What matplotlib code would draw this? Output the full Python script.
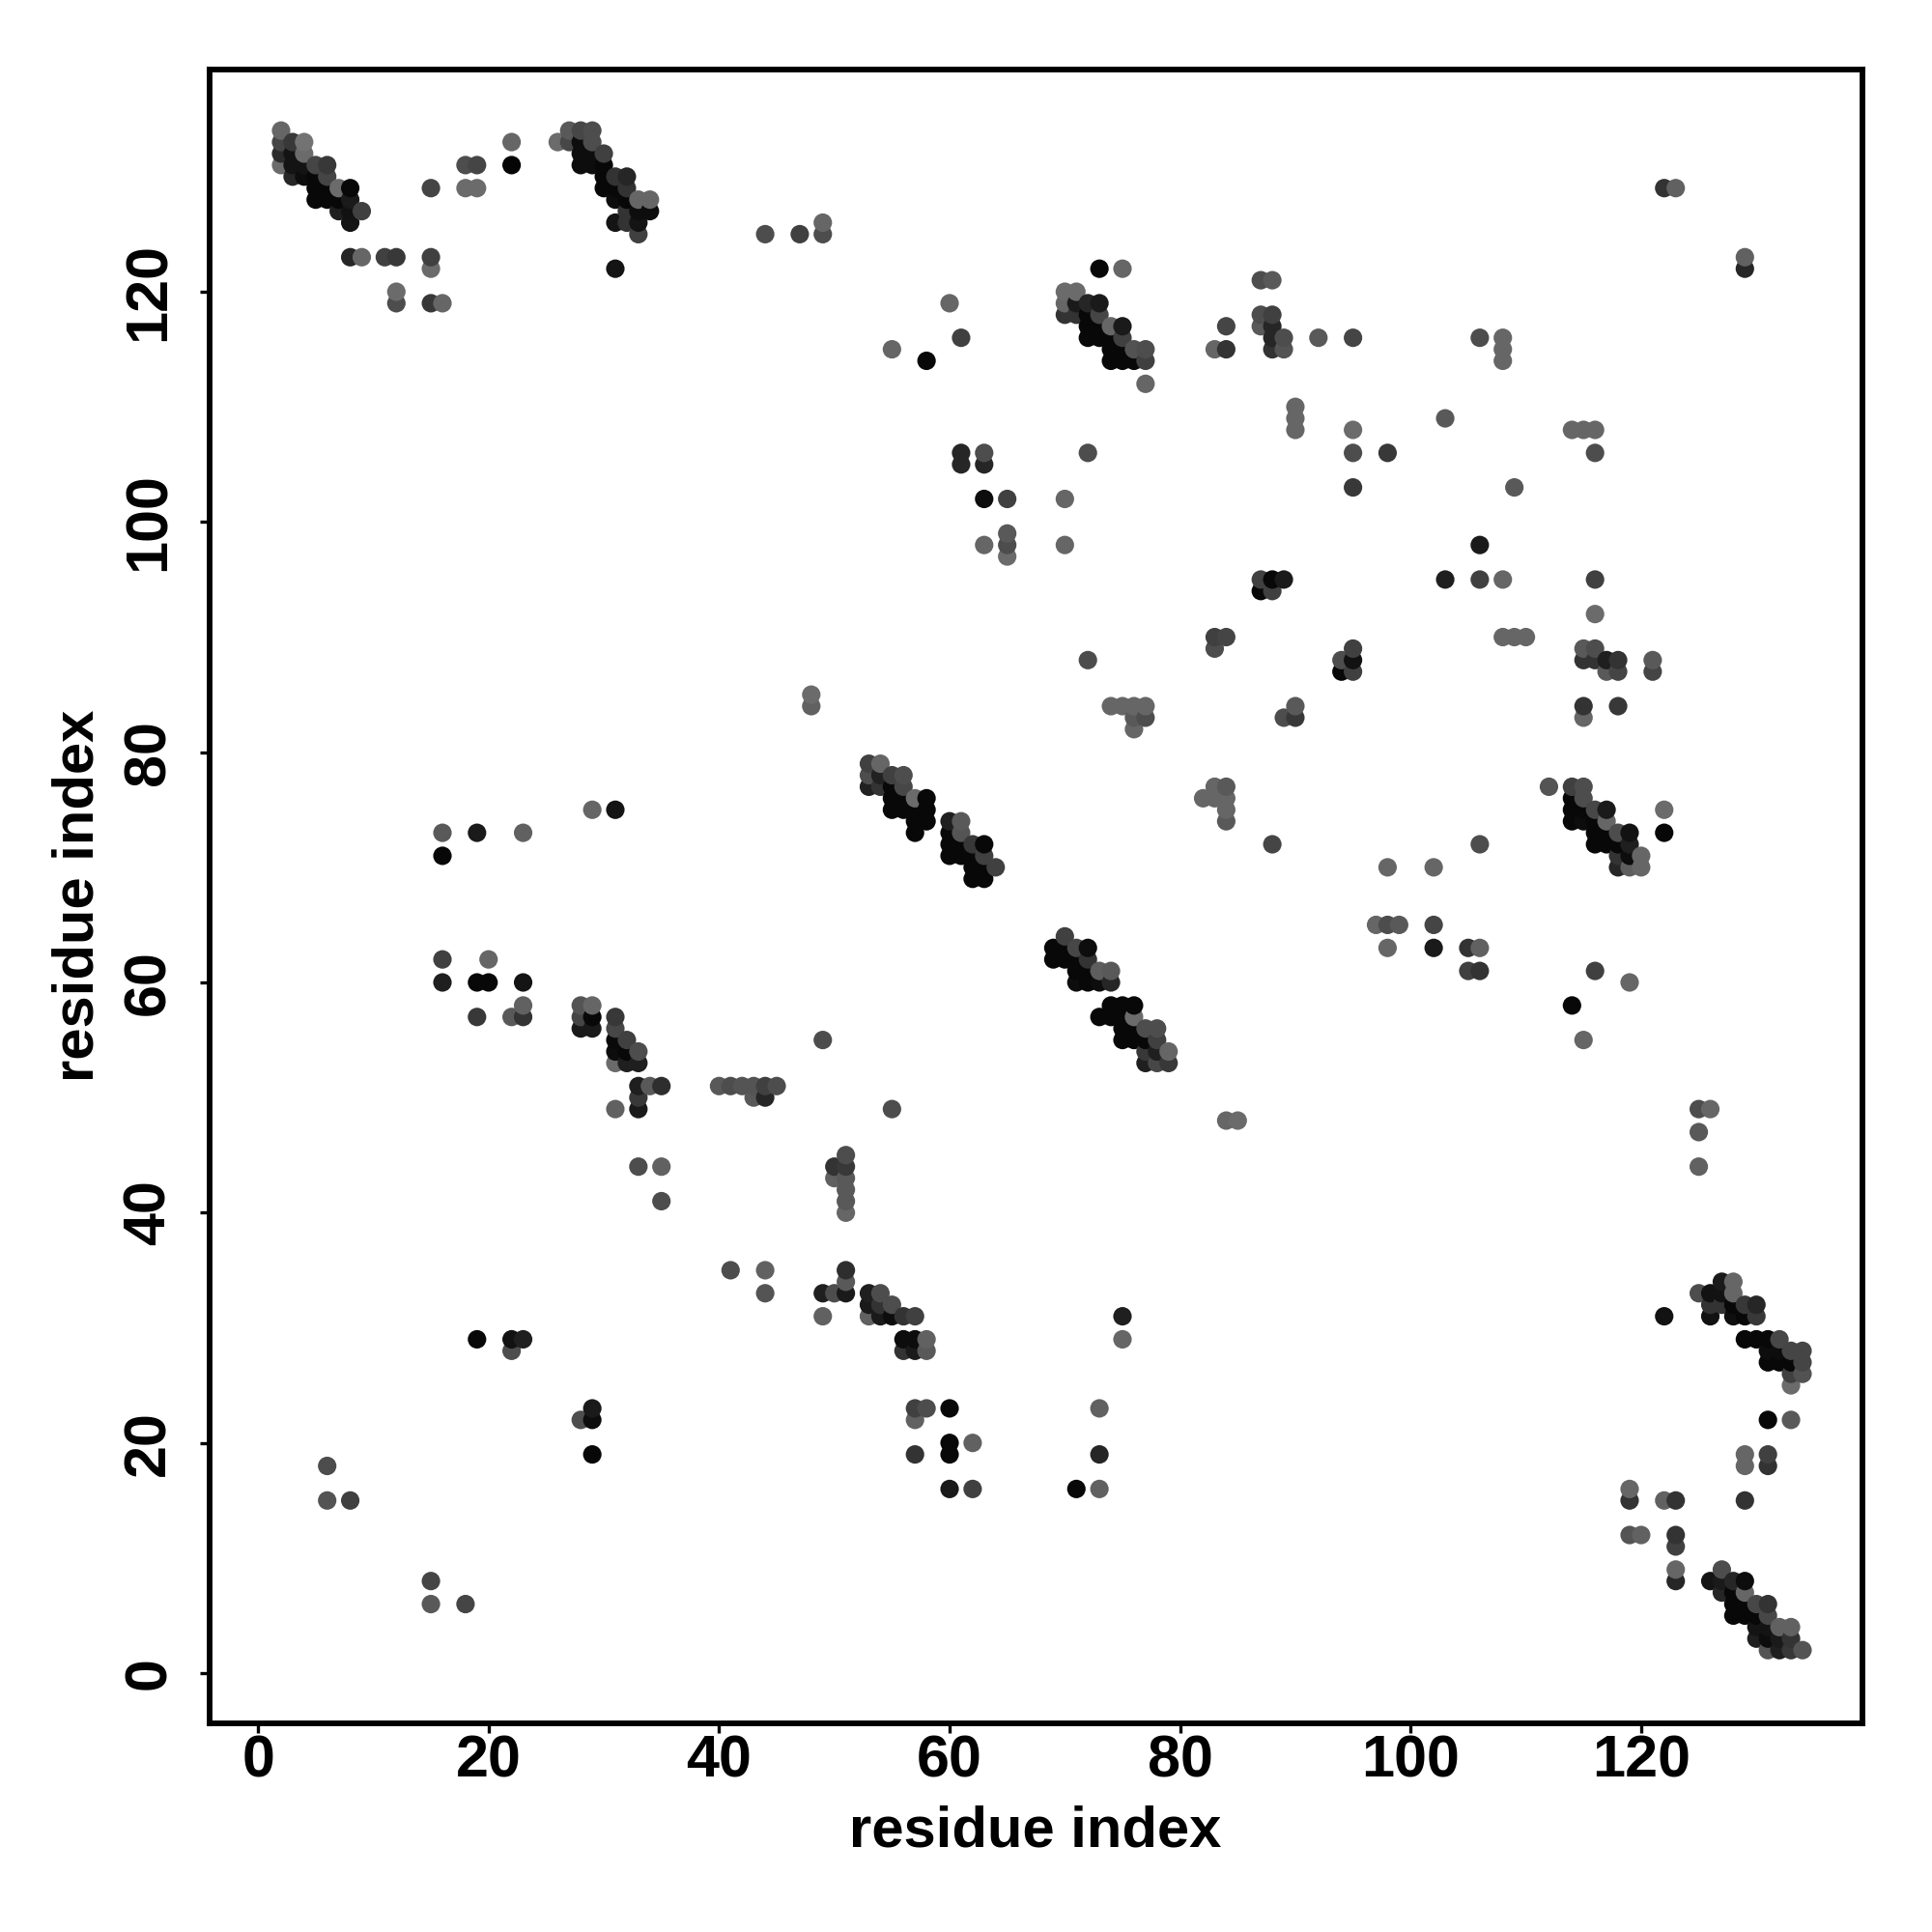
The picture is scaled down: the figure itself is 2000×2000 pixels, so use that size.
import matplotlib
matplotlib.use("Agg")
import matplotlib.pyplot as plt

# (residue i, residue j, grey level of the dot)
helix_top_left = [
(2,134,.40),(2,133,.27),(2,132,.17),(2,131,.42),(3,133,.22),(3,132,.08),(3,131,.08),(3,130,.15),
(4,133,.45),(4,132,.42),(4,131,.08),(4,130,.05),(5,131,.27),(5,130,.03),(5,129,.03),(5,128,.03),
(6,131,.22),(6,130,.27),(6,129,.03),(6,128,.03),(7,129,.42),(7,128,.03),(7,127,.12),
(8,129,.03),(8,128,.10),(8,127,.07),(8,126,.08),(9,127,.25),
(8,123,.15),(9,123,.40),(11,123,.25),(12,123,.22),(15,123,.25),(15,122,.42),(12,120,.42),(12,119,.30),
(15,119,.22),(16,119,.40),(15,129,.27),(18,131,.30),(19,131,.27),(18,129,.42),(19,129,.42),
(22,133,.40),(22,131,.02),
(26,133,.42),(27,134,.35),(27,133,.28),(28,134,.28),(29,134,.30),(28,133,.05),(28,132,.05),(28,131,.05),
(29,133,.30),(29,132,.05),(29,131,.05),(30,132,.25),(30,131,.03),(30,130,.03),(30,129,.03),
(31,130,.20),(32,130,.15),(31,129,.03),(31,128,.05),(32,129,.20),(32,128,.03),(33,128,.40),(34,128,.40),
(33,127,.05),(34,127,.05),(32,127,.20),(31,126,.08),(32,126,.20),(33,126,.08),(33,125,.25),(31,122,.08),
]
helix_centre_upper = [
(53,79,.25),(53,78,.30),(53,77,.13),(54,79,.40),(54,78,.13),(54,77,.20),
(55,78,.25),(55,77,.03),(55,76,.03),(55,75,.03),(56,78,.30),(56,77,.28),(56,76,.03),(56,75,.03),
(57,76,.42),(57,75,.03),(57,74,.03),(57,73,.03),(58,76,.03),(58,75,.03),(58,74,.03),
(60,74,.12),(60,73,.03),(60,72,.03),(60,71,.03),(61,74,.35),(61,73,.33),(61,72,.03),(61,71,.03),
(62,72,.22),(62,71,.03),(62,70,.03),(62,69,.03),(63,72,.03),(63,71,.25),(63,70,.03),(63,69,.03),(64,70,.25),
]
helix_centre_lower = [
(69,63,.03),(69,62,.03),(70,64,.25),(70,63,.03),(70,62,.03),(71,63,.28),(71,62,.03),(71,61,.03),(71,60,.05),
(72,63,.05),(72,62,.20),(72,61,.03),(72,60,.03),(73,61,.37),(73,60,.05),(74,61,.35),(74,60,.15),
(73,57,.03),(74,58,.03),(75,58,.03),(76,58,.03),(74,57,.03),(75,57,.03),(76,57,.42),
(75,56,.03),(75,55,.03),(76,56,.03),(76,55,.03),(77,56,.30),(77,55,.03),(77,54,.22),(77,53,.12),
(78,56,.30),(78,55,.25),(78,54,.12),(78,53,.28),(79,54,.40),(79,53,.22),
]
helix_upper_right = [
(70,120,.42),(71,120,.42),(70,119,.40),(71,119,.10),(72,119,.15),(73,119,.10),(70,118,.20),(71,118,.20),
(72,118,.03),(73,118,.27),(72,117,.03),(73,117,.03),(74,117,.40),(75,117,.10),(72,116,.03),(73,116,.03),
(74,116,.03),(75,116,.25),(74,115,.03),(75,115,.03),(76,115,.32),(77,115,.30),(74,114,.03),(75,114,.03),
(76,114,.03),(77,114,.25),(77,112,.40),(75,122,.40),(73,122,.03),
]
helix_right = [
(112,77,.33),(114,77,.25),(115,77,.30),(114,76,.03),(115,76,.30),(114,75,.03),(115,75,.03),(116,75,.28),(117,75,.10),
(114,74,.03),(115,74,.05),(116,74,.03),(117,74,.40),(116,73,.03),(117,73,.03),(118,73,.30),(119,73,.07),
(116,72,.03),(117,72,.03),(118,72,.03),(119,72,.12),(118,71,.20),(119,71,.05),(120,71,.40),
(118,70,.15),(119,70,.37),(120,70,.40),(122,75,.42),(122,73,.03),
]
helix_lower_right = [
(122,31,.07),(125,33,.30),(126,33,.07),(127,33,.07),(127,34,.10),(128,34,.40),(128,33,.40),
(126,32,.20),(127,32,.20),(128,32,.03),(129,32,.22),(130,32,.15),(126,31,.07),(128,31,.06),(129,31,.03),(130,31,.22),
(129,29,.03),(130,29,.03),(131,29,.03),(132,29,.28),(131,28,.05),(132,28,.05),(133,28,.27),(134,28,.27),
(131,27,.03),(132,27,.03),(133,27,.03),(134,27,.27),(133,26,.25),(134,26,.32),(133,25,.42),
]
helix_bottom_right = [
(127,9,.30),(126,8,.08),(127,8,.10),(128,8,.15),(129,8,.05),(127,7,.15),(128,7,.03),(129,7,.40),
(128,6,.03),(129,6,.03),(130,6,.28),(131,6,.20),(128,5,.03),(129,5,.03),(130,5,.03),(131,5,.28),
(130,4,.08),(131,4,.08),(132,4,.38),(133,4,.38),(130,3,.12),(131,3,.05),(132,3,.10),(133,3,.20),
(131,2,.33),(132,2,.12),(133,2,.22),(134,2,.33),
]
helix_left_mid = [
(28,58,.33),(29,58,.40),(28,57,.27),(29,57,.03),(28,56,.10),(29,56,.10),(31,57,.22),(31,56,.28),(31,55,.04),(32,55,.25),
(31,54,.05),(32,54,.03),(33,54,.30),(31,53,.42),(32,53,.12),(33,53,.12),(33,51,.12),(34,51,.35),(35,51,.18),
(33,50,.22),(33,49,.10),(31,49,.38),
]
scatter_upper = [
(122,129,.20),(123,129,.38),(129,123,.38),(129,122,.15),(44,125,.30),(47,125,.25),(49,125,.30),(49,126,.40),
(55,115,.40),(58,114,.03),(60,119,.40),(61,116,.25),(83,115,.40),(84,115,.20),(84,117,.27),
(87,118,.30),(88,118,.25),(87,117,.35),(88,117,.15),(87,121,.30),(88,121,.35),(88,116,.15),(89,116,.30),
(88,115,.20),(89,115,.33),(92,116,.35),(95,116,.27),(106,116,.30),(108,116,.40),(108,115,.40),(108,114,.40),
(90,110,.40),(90,109,.40),(90,108,.40),(95,108,.42),(95,106,.30),(98,106,.22),(95,103,.22),(103,109,.35),
(114,108,.40),(115,108,.40),(116,108,.40),(116,106,.30),(109,103,.35),
(61,106,.15),(61,105,.15),(63,106,.30),(63,105,.15),(72,106,.30),(70,102,.40),(63,102,.05),(65,102,.25),
(63,98,.40),(65,99,.35),(65,98,.30),(65,97,.42),(70,98,.40),(106,98,.10),(103,95,.12),(106,95,.25),
(108,95,.40),(116,95,.25),(116,92,.42),(87,95,.25),(88,95,.03),(89,95,.10),(87,94,.03),(88,94,.25),
]
scatter_middle = [
(83,90,.25),(84,90,.27),(83,89,.30),(108,90,.40),(109,90,.40),(110,90,.40),(72,88,.30),
(94,88,.30),(95,89,.25),(95,88,.07),(94,87,.03),(95,87,.25),(115,89,.35),(116,89,.30),(115,88,.20),(116,88,.20),
(117,88,.12),(118,88,.20),(117,87,.35),(118,87,.27),(121,88,.35),(121,87,.27),
(74,84,.40),(75,84,.40),(76,84,.40),(77,84,.40),(76,83,.35),(77,83,.30),(76,82,.40),(48,85,.42),(48,84,.38),
(89,83,.30),(90,84,.35),(90,83,.22),(115,84,.20),(115,83,.40),(118,84,.22),
(82,76,.40),(83,77,.40),(84,77,.35),(83,76,.40),(84,76,.40),(84,75,.40),(84,74,.35),(88,72,.27),
(98,70,.40),(102,70,.40),(106,72,.30),(16,73,.35),(19,73,.10),(23,73,.38),(16,71,.03),(29,75,.40),(31,75,.08),
(16,62,.25),(16,60,.12),(20,62,.40),(19,60,.03),(20,60,.03),(23,60,.08),(19,57,.22),(22,57,.35),(23,58,.38),(23,57,.20),
(97,65,.40),(98,65,.30),(99,65,.35),(98,63,.40),(102,65,.27),(102,63,.10),(105,63,.20),(106,63,.38),(105,61,.25),(106,61,.20),
(116,61,.25),(119,60,.40),(114,58,.03),(115,55,.40),(49,55,.30),
]
scatter_lower = [
(40,51,.35),(41,51,.30),(42,51,.33),(43,51,.33),(44,51,.25),(45,51,.30),(43,50,.35),(44,50,.15),(55,49,.30),
(84,48,.40),(85,48,.42),(125,49,.30),(126,49,.40),(125,47,.35),(125,44,.38),(33,44,.30),(35,44,.38),(35,41,.30),
(50,44,.20),(51,45,.30),(51,44,.22),(50,43,.38),(51,43,.35),(51,42,.35),(51,41,.35),(51,40,.40),
(41,35,.30),(44,35,.38),(44,33,.33),(51,35,.18),(51,34,.35),(49,33,.12),(50,33,.30),(51,33,.10),(49,31,.38),
(53,33,.12),(54,33,.30),(53,32,.10),(54,32,.20),(55,32,.30),(53,31,.38),(54,31,.10),(55,31,.05),(56,31,.20),(57,31,.25),
(56,29,.05),(57,29,.05),(58,29,.38),(56,28,.20),(57,28,.10),(58,28,.35),
(19,29,.03),(22,29,.07),(23,29,.12),(22,28,.30),(75,31,.12),(75,29,.40),
(28,22,.30),(29,23,.10),(29,22,.05),(29,19,.03),(57,23,.25),(58,23,.30),(57,22,.38),(57,19,.20),
(60,23,.03),(60,20,.03),(60,19,.03),(62,20,.38),(60,16,.10),(62,16,.25),(71,16,.03),(73,16,.38),(73,19,.15),(73,23,.38),
(6,18,.30),(6,15,.33),(8,15,.25),(15,8,.27),(15,6,.35),(18,6,.27),
(131,22,.03),(133,22,.35),(129,19,.40),(129,18,.40),(131,19,.25),(131,18,.20),(129,15,.20),
(119,16,.40),(119,15,.20),(122,15,.38),(123,15,.20),(119,12,.33),(120,12,.38),(123,12,.20),(123,11,.25),(123,9,.40),(123,8,.15),
]
tick_values = [0, 20, 40, 60, 80, 100, 120]
axis_label = "residue index"

contacts = sorted(helix_top_left + helix_centre_upper + helix_centre_lower + helix_upper_right
                  + helix_right + helix_lower_right + helix_bottom_right + helix_left_mid
                  + scatter_upper + scatter_middle + scatter_lower)

plt.rcParams["font.family"] = ["Liberation Sans", "DejaVu Sans"]
plt.rcParams["font.weight"] = "bold"

fig = plt.figure(figsize=(20, 20), dpi=100)
L, R, T, B = 217, 1928, 72, 1784
ax = fig.add_axes([L/2000, 1-B/2000, (R-L)/2000, (B-T)/2000])
ax.scatter([c[0] for c in contacts], [c[1] for c in contacts], s=190, linewidths=0,
           c=[str(c[2]) for c in contacts], zorder=3)
ax.set_xlim(-4.2, 139.2)
ax.set_ylim(-4.36, 139.3)
ax.set_xticks(tick_values)
ax.set_yticks(tick_values)
ax.tick_params(length=7, width=2.4, labelsize=44)
ax.tick_params(axis="x", pad=1)
ax.tick_params(axis="y", pad=17)
for t in ax.get_yticklabels():
    t.set_rotation(90)
    t.set_va("center")
ax.set_xlabel(axis_label, fontsize=43, fontweight="bold", va="center")
ax.set_ylabel(axis_label, fontsize=43, fontweight="bold", va="center")
ax.xaxis.set_label_coords(1072/2000, 1-1895.5/2000, transform=fig.transFigure)
ax.yaxis.set_label_coords(81.5/2000, 1-927/2000, transform=fig.transFigure)
for s in ax.spines.values():
    s.set_linewidth(4.2)
fig.savefig("out.png", dpi=100)
